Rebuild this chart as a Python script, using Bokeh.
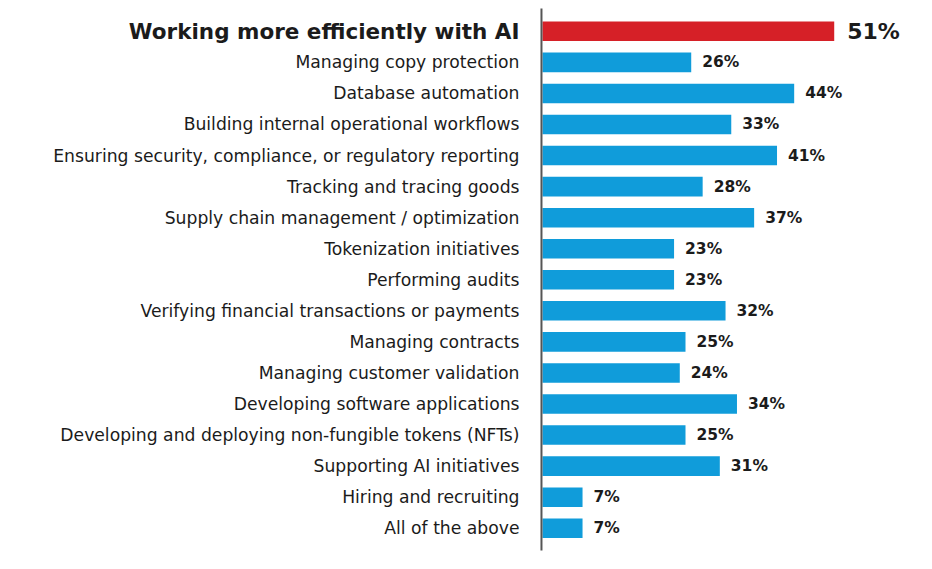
from bokeh.plotting import figure
from bokeh.models import Range1d, ColumnDataSource
from bokeh.core.properties import value
from bokeh.embed import file_html
from bokeh.resources import INLINE

categories = [
    "Working more efficiently with AI",
    "Managing copy protection",
    "Database automation",
    "Building internal operational workflows",
    "Ensuring security, compliance, or regulatory reporting",
    "Tracking and tracing goods",
    "Supply chain management / optimization",
    "Tokenization initiatives",
    "Performing audits",
    "Verifying financial transactions or payments",
    "Managing contracts",
    "Managing customer validation",
    "Developing software applications",
    "Developing and deploying non-fungible tokens (NFTs)",
    "Supporting AI initiatives",
    "Hiring and recruiting",
    "All of the above",
]
values = [51, 26, 44, 33, 41, 28, 37, 23, 23, 32, 25, 24, 34, 25, 31, 7, 7]

RED = "#D62027"
BLUE = "#109CDA"
TXT = "#1b1b1b"
FONT = "DejaVu Sans"

W, H = 916, 553
px_per_unit = 5.72
x0_px = 542
x_start = -x0_px / px_per_unit
x_end = (W - x0_px) / px_per_unit
y_step = 31.06
y0_px = 30.8
y_top = -y0_px / y_step
y_bot = (H - y0_px) / y_step

p = figure(width=W, height=H, output_backend="svg", toolbar_location=None,
           x_range=Range1d(x_start, x_end), y_range=Range1d(y_bot, y_top),
           min_border=0)
p.axis.visible = False
p.grid.visible = False
p.outline_line_color = None
p.background_fill_color = "white"
p.border_fill_color = "white"

idx = list(range(len(categories)))
colors = [RED] + [BLUE] * (len(categories) - 1)
src = ColumnDataSource(dict(y=idx, v=values, c=colors))
p.hbar(y="y", right="v", left=0, height=0.63, fill_color="c", line_color=None, source=src)

# axis line
p.segment(x0=[-0.18], x1=[-0.18], y0=[(8 - y0_px) / y_step], y1=[(550 - y0_px) / y_step],
          line_color="#555555", line_width=2)

rest = ColumnDataSource(dict(y=idx[1:], cat=categories[1:], v=values[1:], lab=[f"{v}%" for v in values[1:]]))
first = ColumnDataSource(dict(y=idx[:1], cat=categories[:1], v=values[:1], lab=[f"{v}%" for v in values[:1]]))

p.text(x=0, y="y", text="cat", source=rest, x_offset=-23, text_align="right",
       text_baseline="middle", text_font=value(FONT), text_font_size="17.2px",
       text_color=TXT)
p.text(x=0, y="y", text="cat", source=first, x_offset=-23, text_align="right",
       text_baseline="middle", text_font=value(FONT), text_font_size="21.5px",
       text_font_style="bold", text_color=TXT)

p.text(x="v", y="y", text="lab", source=rest, x_offset=11, text_align="left",
       text_baseline="middle", text_font=value(FONT), text_font_size="15.5px",
       text_font_style="bold", text_color=TXT)
p.text(x="v", y="y", text="lab", source=first, x_offset=13, text_align="left",
       text_baseline="middle", text_font=value(FONT), text_font_size="22px",
       text_font_style="bold", text_color=TXT)

open("out.html", "w").write(file_html(p, INLINE))
